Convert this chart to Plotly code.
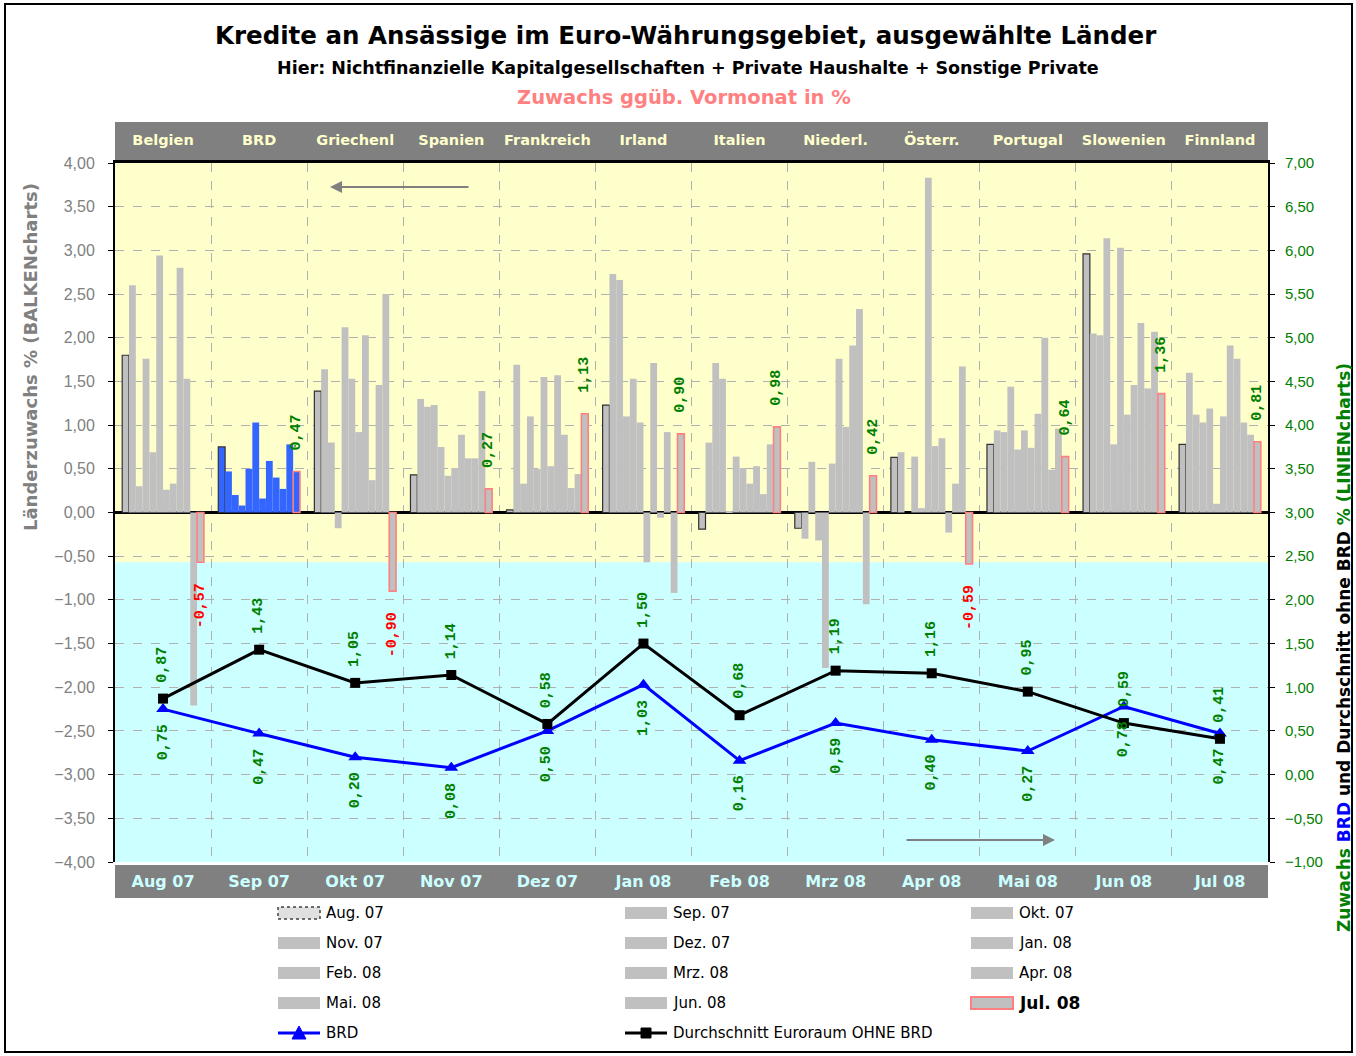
import plotly.graph_objects as go

# ---------------- data ----------------
months = ["Aug 07", "Sep 07", "Okt 07", "Nov 07", "Dez 07", "Jan 08",
          "Feb 08", "Mrz 08", "Apr 08", "Mai 08", "Jun 08", "Jul 08"]
legend_names = ["Aug. 07", "Sep. 07", "Okt. 07", "Nov. 07", "Dez. 07", "Jan. 08",
                "Feb. 08", "Mrz. 08", "Apr. 08", "Mai. 08", "Jun. 08", "Jul. 08"]
countries = ["Belgien", "BRD", "Griechenl", "Spanien", "Frankreich", "Irland",
             "Italien", "Niederl.", "Österr.", "Portugal", "Slowenien", "Finnland"]

# monthly growth in % per country, Aug 07 ... Jul 08
belgien      = [1.80, 2.60, 0.30, 1.76, 0.69, 2.94, 0.26, 0.33, 2.80, 1.53, -2.21, -0.57]
brd          = [0.75, 0.47, 0.20, 0.08, 0.50, 1.03, 0.16, 0.59, 0.40, 0.27, 0.78, 0.47]
griechenland = [1.39, 1.64, 0.80, -0.18, 2.12, 1.53, 0.92, 2.03, 0.37, 1.46, 2.50, -0.90]
spanien      = [0.43, 1.30, 1.21, 1.23, 0.75, 0.42, 0.51, 0.89, 0.62, 0.62, 1.39, 0.27]
frankreich   = [0.03, 1.69, 0.33, 1.10, 0.50, 1.55, 0.53, 1.57, 0.89, 0.28, 0.44, 1.13]
irland       = [1.23, 2.73, 2.66, 1.10, 1.53, 1.03, -0.57, 1.71, -0.06, 0.92, -0.92, 0.90]
italien      = [-0.19, 0.80, 1.71, 1.53, 0.01, 0.64, 0.51, 0.33, 0.53, 0.21, 0.78, 0.98]
niederlande  = [-0.18, -0.30, 0.58, -0.32, -1.78, 0.56, 1.76, 0.98, 1.91, 2.33, -1.05, 0.42]
oesterreich  = [0.63, 0.69, 0.00, 0.64, 0.05, 3.83, 0.76, 0.85, -0.23, 0.33, 1.67, -0.59]
portugal     = [0.78, 0.94, 0.92, 1.44, 0.72, 0.94, 0.74, 1.13, 2.00, 0.49, 0.96, 0.64]
slowenien    = [2.96, 2.05, 2.03, 3.14, 0.78, 3.03, 1.12, 1.46, 2.17, 1.42, 2.07, 1.36]
finnland     = [0.78, 1.60, 1.12, 1.03, 1.19, 0.10, 1.10, 1.91, 1.76, 1.03, 0.89, 0.81]

# lines (right axis): BRD and euro area average without BRD
brd_line     = brd
durchschnitt = [0.87, 1.43, 1.05, 1.14, 0.58, 1.50, 0.68, 1.19, 1.16, 0.95, 0.59, 0.41]

country_values = [belgien, brd, griechenland, spanien, frankreich, irland,
                  italien, niederlande, oesterreich, portugal, slowenien, finnland]

# ---------------- styles ----------------
GRAY = "#C0C0C0"
BLUE_BAR = "#3366FF"
PINK = "#FF8080"
GREEN = "#008000"
RED = "#FF0000"
YELLOW_BG = "#FFFFCC"
CYAN_BG = "#CCFFFF"
BAND = "#808080"
SANS = "DejaVu Sans"
MONO = "Liberation Mono"

W, H = 1356, 1056
ML, MR, MT, MB = 115, 88, 163, 194
PW = W - ML - MR
PH = H - MT - MB


def px(x):
    return (x - ML) / PW


def py(y):
    return (H - MB - y) / PH


def fmt(v):
    return f"{v:.2f}".replace(".", ",")


fig = go.Figure()

for i, m in enumerate(months):
    yv = [cv[i] for cv in country_values]
    fill = [BLUE_BAR if c == "BRD" else GRAY for c in countries]
    line = dict(width=0)
    kw = {}
    if i == 0:
        line = dict(color="#303030", width=1.2)
    if i == len(months) - 1:
        line = dict(color=PINK, width=1.6)
        kw = dict(
            text=[("\u00a0\u00a0" + fmt(v)) if v >= 0 else (fmt(v) + "\u00a0\u00a0") for v in yv],
            textposition="outside",
            textangle=-90,
            textfont=dict(family=MONO, size=15, weight="bold",
                          color=[GREEN if v >= 0 else RED for v in yv]),
            constraintext="none",
            cliponaxis=False,
        )
    fig.add_trace(go.Bar(
        x=countries, y=yv, name=legend_names[i],
        marker=dict(color=fill, line=line),
        xaxis="x", yaxis="y", showlegend=False, **kw))

fig.add_trace(go.Scatter(
    x=months, y=brd_line, name="BRD", xaxis="x2", yaxis="y2",
    mode="lines+markers", line=dict(color="#0000FF", width=3),
    marker=dict(symbol="triangle-up", size=12, color="#0000FF"),
    showlegend=False, cliponaxis=False))
fig.add_trace(go.Scatter(
    x=months, y=durchschnitt, name="Durchschnitt Euroraum OHNE BRD",
    xaxis="x2", yaxis="y2",
    mode="lines+markers", line=dict(color="#000000", width=3),
    marker=dict(symbol="square", size=10, color="#000000"),
    showlegend=False, cliponaxis=False))

annotations = []
# line value labels
for m, v in zip(months, durchschnitt):
    annotations.append(dict(x=m, y=v, xref="x2", yref="y2", text=fmt(v),
                            textangle=-90, showarrow=False, xanchor="center", yanchor="bottom",
                            yshift=14, font=dict(family=MONO, size=15, color=GREEN, weight="bold")))
for m, v in zip(months, brd_line):
    annotations.append(dict(x=m, y=v, xref="x2", yref="y2", text=fmt(v),
                            textangle=-90, showarrow=False, xanchor="center", yanchor="top",
                            yshift=-13, font=dict(family=MONO, size=15, color=GREEN, weight="bold")))


def ptext(x, y, text, size, color="#000000", angle=0, family=SANS):
    return dict(x=px(x), y=py(y), xref="paper", yref="paper", showarrow=False,
                xanchor="center", yanchor="middle", text=text, textangle=angle,
                font=dict(family=family, size=size, color=color))


# titles
annotations += [
    ptext(686, 35, "<b>Kredite an Ansässige im Euro-Währungsgebiet, ausgewählte Länder</b>", 24.5),
    ptext(688, 68, "<b>Hier: Nichtfinanzielle Kapitalgesellschaften + Private Haushalte + Sonstige Private</b>", 17.5),
    ptext(684, 97, "<b>Zuwachs ggüb. Vormonat in %</b>", 19.5, PINK),
    ptext(30, 357, "<b>Länderzuwachs % (BALKENcharts)</b>", 18, "#808080", -90),
    ptext(1344, 648,
          ("<b><span style='color:#008000'>Zuwachs </span>"
           "<span style='color:#0000FF'>BRD</span>"
           "<span style='color:#000000'> und Durchschnitt ohne BRD </span>"
           "<span style='color:#008000'>% (LINIENcharts)</span></b>"),
          17, GREEN, -90),
    # direction arrows
    dict(x=px(330), y=py(187), xref="paper", yref="paper", ax=140, ay=0,
         showarrow=True, arrowhead=2, arrowsize=1.2, arrowwidth=2, arrowcolor="#808080", text=""),
    dict(x=px(1055), y=py(840), xref="paper", yref="paper", ax=-150, ay=0,
         showarrow=True, arrowhead=2, arrowsize=1.2, arrowwidth=2, arrowcolor="#808080", text=""),
]

shapes = [
    # plot backgrounds
    dict(type="rect", xref="paper", yref="y", x0=0, x1=1, y0=-0.57, y1=4,
         fillcolor=YELLOW_BG, line=dict(width=0), layer="below"),
    dict(type="rect", xref="paper", yref="y", x0=0, x1=1, y0=-4, y1=-0.57,
         fillcolor=CYAN_BG, line=dict(width=0), layer="below"),
    # header / footer bands
    dict(type="rect", xref="paper", yref="paper", x0=0, x1=1, y0=py(160), y1=py(122),
         fillcolor=BAND, line=dict(width=0), layer="below"),
    dict(type="rect", xref="paper", yref="paper", x0=0, x1=1, y0=py(898), y1=py(865),
         fillcolor=BAND, line=dict(width=0), layer="below"),
    # outer frame
    dict(type="rect", xref="paper", yref="paper", x0=px(5), x1=px(1352), y0=py(1052), y1=py(4),
         line=dict(color="#000000", width=2), fillcolor="rgba(0,0,0,0)"),
]

# manual legend
col_x = [278, 625, 971]
row_y = [913, 943, 973, 1003, 1033]
for i, name in enumerate(legend_names):
    cx = col_x[i % 3]
    ry = row_y[i // 3]
    if i == 0:
        ln = dict(color="#404040", width=1.5, dash="dot")
        fc = "#E0E0E0"
    elif i == len(legend_names) - 1:
        ln = dict(color=PINK, width=2)
        fc = GRAY
    else:
        ln = dict(width=0)
        fc = GRAY
    shapes.append(dict(type="rect", xref="paper", yref="paper",
                       x0=px(cx), x1=px(cx + 42), y0=py(ry + 6), y1=py(ry - 6),
                       fillcolor=fc, line=ln))
    last = i == len(legend_names) - 1
    annotations.append(dict(x=px(cx + 46), y=py(ry), xref="paper", yref="paper",
                            xanchor="left", yanchor="middle", showarrow=False,
                            text=f"<b>{name}</b>" if last else name,
                            font=dict(family=SANS, size=17 if last else 15, color="#000000")))

# line legend entries
for cx, color, nm, sym in [(col_x[0], "#0000FF", "BRD", "tri"),
                           (col_x[1], "#000000", "Durchschnitt Euroraum OHNE BRD", "sq")]:
    ry = row_y[4]
    shapes.append(dict(type="line", xref="paper", yref="paper",
                       x0=px(cx), x1=px(cx + 42), y0=py(ry), y1=py(ry),
                       line=dict(color=color, width=3)))
    mx = cx + 21
    if sym == "tri":
        path = f"M {px(mx - 7)} {py(ry + 6)} L {px(mx + 7)} {py(ry + 6)} L {px(mx)} {py(ry - 7)} Z"
        shapes.append(dict(type="path", xref="paper", yref="paper", path=path,
                           fillcolor=color, line=dict(color=color, width=1)))
    else:
        shapes.append(dict(type="rect", xref="paper", yref="paper",
                           x0=px(mx - 5), x1=px(mx + 5), y0=py(ry + 5), y1=py(ry - 5),
                           fillcolor=color, line=dict(color=color, width=1)))
    annotations.append(dict(x=px(cx + 46), y=py(ry), xref="paper", yref="paper",
                            xanchor="left", yanchor="middle", showarrow=False, text=nm,
                            font=dict(family=SANS, size=15, color="#000000")))

fig.update_layout(
    width=W, height=H,
    margin=dict(l=ML, r=MR, t=MT, b=MB, pad=0),
    paper_bgcolor="#FFFFFF", plot_bgcolor="#FFFFFF",
    separators=",.",
    barmode="group", bargap=0.15, bargroupgap=0,
    showlegend=False,
    shapes=shapes, annotations=annotations,
    xaxis=dict(type="category", categoryorder="array", categoryarray=countries,
               range=[-0.5, 11.5], side="top", anchor="y",
               tickson="boundaries", ticks="", showgrid=True, tickangle=0,
               gridcolor="#B0B0B0", griddash="dash", gridwidth=1,
               showline=True, linecolor="#000000", linewidth=3,
               ticklabelstandoff=9,
               tickfont=dict(family=SANS, size=14.5, color=YELLOW_BG, weight="bold")),
    xaxis2=dict(type="category", categoryorder="array", categoryarray=months,
                range=[-0.5, 11.5], side="bottom", overlaying="x", anchor="y",
                showgrid=False, ticks="", showline=False, tickangle=0,
                ticklabelstandoff=8,
                tickfont=dict(family=SANS, size=16, color=CYAN_BG, weight="bold")),
    yaxis=dict(range=[-4, 4], dtick=0.5, tickformat=".2f",
               showgrid=True, gridcolor="#B0B0B0", griddash="dash", gridwidth=1,
               zeroline=True, zerolinecolor="#000000", zerolinewidth=3,
               showline=True, linecolor="#000000", linewidth=2,
               ticks="outside", ticklen=5, tickcolor="#000000",
               ticklabelstandoff=10,
               tickfont=dict(family="Liberation Sans", size=16, color="#808080")),
    yaxis2=dict(range=[-1, 7], dtick=0.5, tickformat=".2f", overlaying="y", side="right",
                showgrid=False, zeroline=False,
                showline=True, linecolor="#000000", linewidth=2,
                ticks="outside", ticklen=5, tickcolor="#000000",
                ticklabelstandoff=7,
                tickfont=dict(family="Liberation Sans", size=15, color=GREEN)),
)

fig.write_html("out.html", config={"displayModeBar": False},
               post_script="document.body.style.margin='0';")
